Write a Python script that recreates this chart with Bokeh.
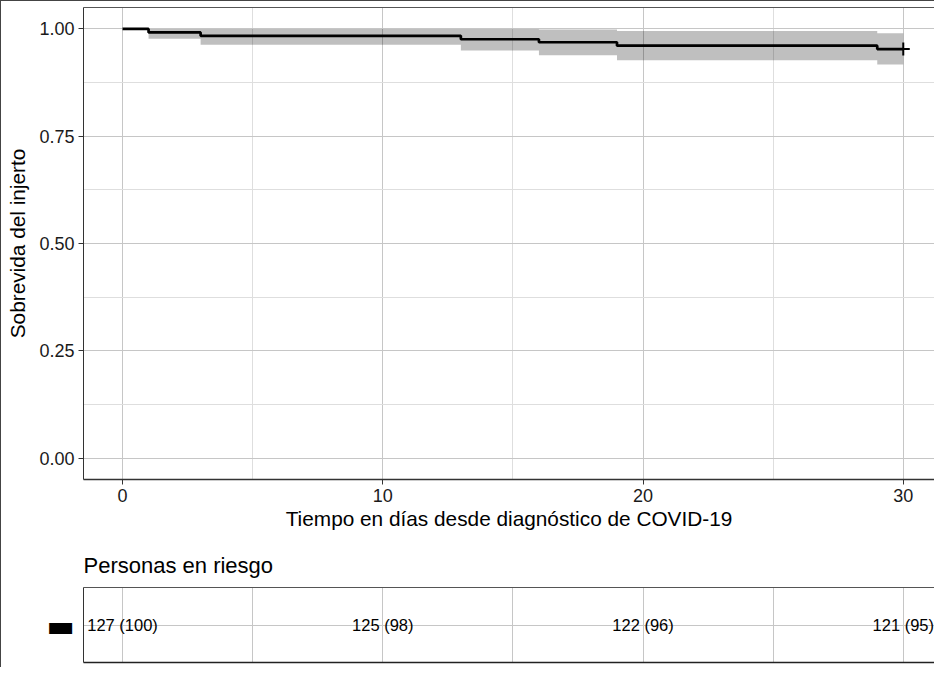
from bokeh.plotting import figure
from bokeh.layouts import column
from bokeh.models import FixedTicker, LinearAxis, Range1d, NumeralTickFormatter
from bokeh.core.properties import value
from bokeh.embed import file_html
from bokeh.resources import INLINE

# ---------------- data ----------------
time = [0, 1, 3, 13, 16, 19, 29, 30]
surv = [1.000, 0.992, 0.984, 0.976, 0.969, 0.961, 0.953, 0.953]
ci_lower = [1.000, 0.977, 0.963, 0.950, 0.939, 0.927, 0.917, 0.917]
ci_upper = [1.000, 1.000, 1.000, 1.000, 0.999, 0.995, 0.990, 0.990]
censor_time = [30]
censor_surv = [0.953]

risk_time = [0, 10, 20, 30]
risk_n = [127, 125, 122, 121]
risk_pct = [100, 98, 96, 95]

x_ticks = [0, 10, 20, 30]
x_minor = [5, 15, 25]
y_ticks = [0, 0.25, 0.5, 0.75, 1.0]
y_tick_labels = ["0.00", "0.25", "0.50", "0.75", "1.00"]
y_minor = [0.125, 0.375, 0.625, 0.875]

x_title = "Tiempo en días desde diagnóstico de COVID-19"
y_title = "Sobrevida del injerto"
risk_title = "Personas en riesgo"
strata_symbol = "▬"

FONT = "Liberation Sans"
MAJOR_GRID = "#c6c6c6"
MINOR_GRID = "#dedede"
X_RANGE = (-1.5, 31.2)

# ---------------- main KM plot ----------------
p = figure(width=933, height=536, title=None,
           x_range=Range1d(*X_RANGE), y_range=Range1d(-0.05, 1.05),
           output_backend="svg", toolbar_location=None,
           min_border_left=82, min_border_right=0,
           min_border_top=6, min_border_bottom=58)
p.outline_line_color = None
p.background_fill_color = "white"
p.border_fill_color = "white"

xa = p.xaxis[0]
ya = p.yaxis[0]
xa.ticker = FixedTicker(ticks=x_ticks, minor_ticks=x_minor)
ya.ticker = FixedTicker(ticks=y_ticks, minor_ticks=y_minor)
ya.formatter = NumeralTickFormatter(format="0.00")
ya.major_label_overrides = {t: l for t, l in zip(y_ticks, y_tick_labels)}
for ax in (xa, ya):
    ax.major_label_text_font = FONT
    ax.major_label_text_font_size = "18px"
    ax.major_label_text_color = "#1a1a1a"
    ax.axis_label_text_font = FONT
    ax.axis_label_text_font_size = "20.8px"
    ax.axis_label_text_font_style = "normal"
    ax.axis_label_text_color = "black"
    ax.major_tick_in = 0
    ax.major_tick_out = 5
    ax.major_tick_line_color = "#333333"
    ax.minor_tick_line_color = None
    ax.axis_line_color = "#333333"
xa.axis_line_width = 1.5
xa.axis_label = x_title
ya.axis_label = y_title
xa.major_label_standoff = 4
xa.axis_label_standoff = 2
ya.major_label_standoff = 4
ya.axis_label_standoff = 7

top_axis = LinearAxis(ticker=FixedTicker(ticks=[]),
                      major_tick_out=0, major_tick_in=0, major_label_standoff=0,
                      axis_line_color="#555555", minor_tick_line_color=None)
p.add_layout(top_axis, "above")

p.xgrid.grid_line_color = MAJOR_GRID
p.ygrid.grid_line_color = MAJOR_GRID
p.xgrid.minor_grid_line_color = MINOR_GRID
p.ygrid.minor_grid_line_color = MINOR_GRID

# confidence ribbon as step area
rx, rl, ru = [], [], []
for i in range(len(time) - 1):
    rx += [time[i], time[i + 1]]
    rl += [ci_lower[i], ci_lower[i]]
    ru += [ci_upper[i], ci_upper[i]]
p.varea(x=rx, y1=rl, y2=ru, fill_color="black", fill_alpha=0.25)

p.step(x=time, y=surv, mode="after", line_width=2.7, line_color="black")
p.scatter(x=censor_time, y=censor_surv, marker="cross", size=13,
          line_width=2, line_color="black")

# ---------------- risk table ----------------
p2 = figure(width=933, height=130,
            x_range=Range1d(*X_RANGE), y_range=Range1d(0.5, 1.5),
            output_backend="svg", toolbar_location=None,
            min_border_left=82, min_border_right=0,
            min_border_top=50, min_border_bottom=5)
p2.outline_line_color = None
p2.background_fill_color = "white"
p2.border_fill_color = "white"
p2.title.text = risk_title
p2.title.text_font = FONT
p2.title.text_font_size = "22px"
p2.title.text_font_style = "normal"
p2.title.text_color = "black"
p2.title.align = "left"
p2.title.standoff = 20

xa2 = p2.xaxis[0]
ya2 = p2.yaxis[0]
xa2.ticker = FixedTicker(ticks=[])
xa2.major_label_standoff = 0
xa2.major_tick_out = 0
xa2.major_tick_in = 0
xa2.minor_tick_line_color = None
xa2.axis_line_color = "#222222"
xa2.axis_line_width = 1.5

ya2.ticker = FixedTicker(ticks=[1])
ya2.major_label_overrides = {1: strata_symbol}
ya2.major_label_text_font = "DejaVu Sans"
ya2.major_label_text_font_size = "30px"
ya2.major_label_text_color = "black"
ya2.major_tick_line_color = None
ya2.minor_tick_line_color = None
ya2.major_label_standoff = 3
ya2.axis_line_color = "#333333"

top_axis2 = LinearAxis(ticker=FixedTicker(ticks=[]),
                       major_tick_out=0, major_tick_in=0, major_label_standoff=0,
                       axis_line_color="#555555", minor_tick_line_color=None)
p2.add_layout(top_axis2, "above")

p2.xgrid.ticker = FixedTicker(ticks=x_ticks, minor_ticks=x_minor)
p2.xgrid.grid_line_color = MAJOR_GRID
p2.xgrid.minor_grid_line_color = MAJOR_GRID
p2.ygrid.grid_line_color = MAJOR_GRID

risk_labels = [f"{n} ({pc})" for n, pc in zip(risk_n, risk_pct)]
p2.text(x=risk_time, y=[1] * len(risk_time), text=risk_labels,
        text_align="center", text_baseline="middle",
        text_font=value(FONT), text_font_size="16.5px", text_color="black")

layout = column(p, p2, spacing=0,
                styles={"border-top": "1px solid #444444",
                        "border-left": "1px solid #444444"})

open("out.html", "w").write(file_html(layout, INLINE))
